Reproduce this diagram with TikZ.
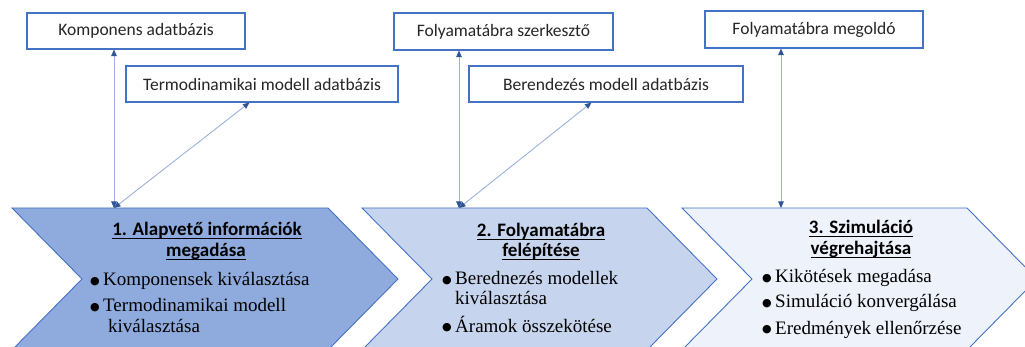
\documentclass[tikz,border=0pt]{standalone}
\usepackage{fontspec}
\setmainfont{Liberation Serif}
\newfontfamily\calfont{Carlito}
\newfontfamily\symfont{DejaVu Sans}
\usetikzlibrary{arrows.meta,calc}

\definecolor{edgeblue}{HTML}{4472C4}
\definecolor{linkblue}{HTML}{9AB1DD}
\definecolor{tipblue}{HTML}{2F5597}
\definecolor{stepA}{HTML}{8FAADC}
\definecolor{stepB}{HTML}{C7D4ED}
\definecolor{stepC}{HTML}{EEF2FA}
\definecolor{boxtext}{HTML}{262626}

% underlined heading line with a thin rule just under the baseline
\newcommand\hdline[1]{\setbox0\hbox{#1}\rlap{\rule[-2.6pt]{\wd0}{0.9pt}}\box0}
% list marker: a solid round dot followed by the item gap
\newcommand\itemdot{\makebox[13pt][l]{\raisebox{1.2pt}{\symfont\fontsize{11}{11}\selectfont ●}}}

\tikzset{
  chevron/.style={draw=edgeblue, line width=0.9pt, line join=miter},
  dbbox/.style={draw=edgeblue, line width=1.1pt, fill=white, inner sep=0pt,
    font=\calfont\fontsize{17.5}{20}\selectfont, text=boxtext},
  link/.style={draw=linkblue, line width=0.9pt,
    {Triangle[length=6.5pt,width=5.5pt,color=tipblue]}-{Triangle[length=6.5pt,width=5.5pt,color=tipblue]}},
  heading/.style={anchor=base, inner sep=0pt,
    font=\calfont\bfseries\fontsize{19}{21}\selectfont, text=black},
  bul/.style={anchor=base west, inner sep=0pt,
    font=\fontsize{19}{21}\selectfont, text=black},
}

\begin{document}
\begin{tikzpicture}[x=1pt,y=-1pt]
\useasboundingbox (0,0) rectangle (1025,347);
\clip (0,0) rectangle (1025,347);

% the three process steps
\draw[chevron, fill=stepA] (12,208) -- (328,208) -- (398,279) -- (328,350) -- (12,350) -- (82,279) -- cycle;
\draw[chevron, fill=stepB] (362,208) -- (647,208) -- (717,279) -- (647,350) -- (362,350) -- (432,279) -- cycle;
\draw[chevron, fill=stepC] (682,208) -- (967,208) -- (1037,279) -- (967,350) -- (682,350) -- (752,279) -- cycle;

\coordinate (s1) at (114,208);
\coordinate (s2) at (459,208);
\coordinate (s3) at (781,208);

% tools and databases
\node[dbbox, minimum width=218pt, minimum height=36pt] (kompdb) at (136,31) {Komponens adatbázis};
\node[dbbox, minimum width=272pt, minimum height=36pt] (termodb) at (262,84) {Termodinamikai modell adatbázis};
\node[dbbox, minimum width=219pt, minimum height=37pt] (editor) at (503.5,31.5) {Folyamatábra szerkesztő};
\node[dbbox, minimum width=274pt, minimum height=36pt] (equipdb) at (606,84) {Berendezés modell adatbázis};
\node[dbbox, minimum width=218pt, minimum height=37pt] (solver) at (814,29.5) {Folyamatábra megoldó};

% connections between the steps and the tools
\draw[link] (s1) -- (kompdb.south -| s1);
\draw[link] (s1) -- ($(termodb.south west)+(124,0)$);
\draw[link] (s2) -- (editor.south -| s2);
\draw[link] (s2) -- ($(equipdb.south west)+(123,0)$);
\draw[link] (s3) -- (solver.south -| s3);

% step 1
\node[heading] (h1a) at (207,236) {\hdline{1. Alapvető információk}};
\node[heading] (h1b) at (206,257) {\hdline{megadása}};
\node[bul] (b1a) at (90,286) {\itemdot Komponensek kiválasztása};
\node[bul] (b1b) at (90,312) {\itemdot Termodinamikai modell};
\node[bul] (b1c) at (108,332) {kiválasztása};

% step 2
\node[heading] (h2a) at (541,237) {\hdline{2. Folyamatábra}};
\node[heading] (h2b) at (541,257) {\hdline{felépítése}};
\node[bul] (b2a) at (442,285) {\itemdot Berednezés modellek};
\node[bul] (b2b) at (455,305) {kiválasztása};
\node[bul] (b2c) at (442,332) {\itemdot Áramok összekötése};

% step 3
\node[heading] (h3a) at (861,234) {\hdline{3. Szimuláció}};
\node[heading] (h3b) at (861,255) {\hdline{végrehajtása}};
\node[bul] (b3a) at (762,283) {\itemdot Kikötések megadása};
\node[bul] (b3b) at (762,308) {\itemdot Simuláció konvergálása};
\node[bul] (b3c) at (762,334) {\itemdot Eredmények ellenőrzése};
\end{tikzpicture}
\end{document}
